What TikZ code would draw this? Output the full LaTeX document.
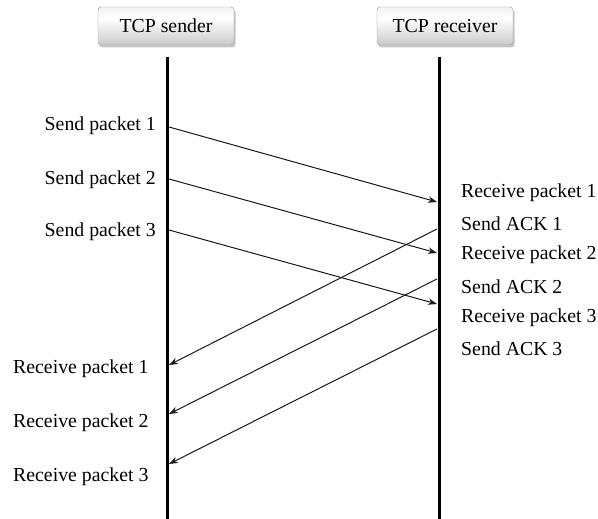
\documentclass[tikz,border=0pt]{standalone}
\usepackage{fontspec}
\setmainfont{Liberation Serif}
\usetikzlibrary{arrows.meta,shadows}
% light button-like shading: pale top, white band, grey bottom
\pgfdeclareverticalshading{buttonshade}{100bp}{
  color(0bp)=(black!42); color(30bp)=(black!18); color(60bp)=(white); color(85bp)=(black!8); color(100bp)=(black!14)}
\begin{document}
\begin{tikzpicture}[x=1pt,y=-1pt,
  every node/.style={font=\fontsize{19.8}{22}\selectfont, inner sep=0pt},
  header/.style={draw=gray!80, rounded corners=3pt, shading=buttonshade,
    minimum width=136pt, minimum height=38pt,
    drop shadow={shadow xshift=1.5pt, shadow yshift=-2.5pt, opacity=0.45}},
  lifeline/.style={line width=3pt, black},
  msg/.style={line width=1pt, black!90, -{Stealth[length=9pt,width=6.5pt]}},
  lbl/.style={text=black}]
\useasboundingbox (0,0) rectangle (598,519);

% participants
\node[header] (snd) at (166,26) {TCP sender};
\node[header] (rcv) at (445,26) {TCP receiver};

% lifelines
\coordinate (stop) at (167,57);
\coordinate (sbot) at (167,519);
\coordinate (rtop) at (439,57);
\coordinate (rbot) at (439,519);
\draw[lifeline] (stop) -- (sbot);
\draw[lifeline] (rtop) -- (rbot);

% message end points
\coordinate (d1a) at (169,127);
\coordinate (d1b) at (437,202);
\coordinate (d2a) at (169,179);
\coordinate (d2b) at (437,253);
\coordinate (d3a) at (169,230);
\coordinate (d3b) at (437,304);
\coordinate (a1a) at (437,229);
\coordinate (a1b) at (169,365);
\coordinate (a2a) at (437,279);
\coordinate (a2b) at (169,414);
\coordinate (a3a) at (437,329);
\coordinate (a3b) at (169,464);

% data packets
\draw[msg] (d1a) -- (d1b);
\draw[msg] (d2a) -- (d2b);
\draw[msg] (d3a) -- (d3b);
% acknowledgements
\draw[msg] (a1a) -- (a1b);
\draw[msg] (a2a) -- (a2b);
\draw[msg] (a3a) -- (a3b);

% sender side labels
\node[lbl, anchor=east] (ls1) at (156,126) {Send packet 1};
\node[lbl, anchor=east] (ls2) at (156,180) {Send packet 2};
\node[lbl, anchor=east] (ls3) at (156,232) {Send packet 3};
\node[lbl, anchor=west] (lr1) at (13,369) {Receive packet 1};
\node[lbl, anchor=west] (lr2) at (13,423) {Receive packet 2};
\node[lbl, anchor=west] (lr3) at (13,477) {Receive packet 3};

% receiver side labels
\node[lbl, anchor=west] (rr1) at (461,193) {Receive packet 1};
\node[lbl, anchor=west] (ra1) at (461,224) {Send ACK 1};
\node[lbl, anchor=west] (rr2) at (461,255) {Receive packet 2};
\node[lbl, anchor=west] (ra2) at (461,287) {Send ACK 2};
\node[lbl, anchor=west] (rr3) at (461,318) {Receive packet 3};
\node[lbl, anchor=west] (ra3) at (461,349) {Send ACK 3};
\end{tikzpicture}
\end{document}
